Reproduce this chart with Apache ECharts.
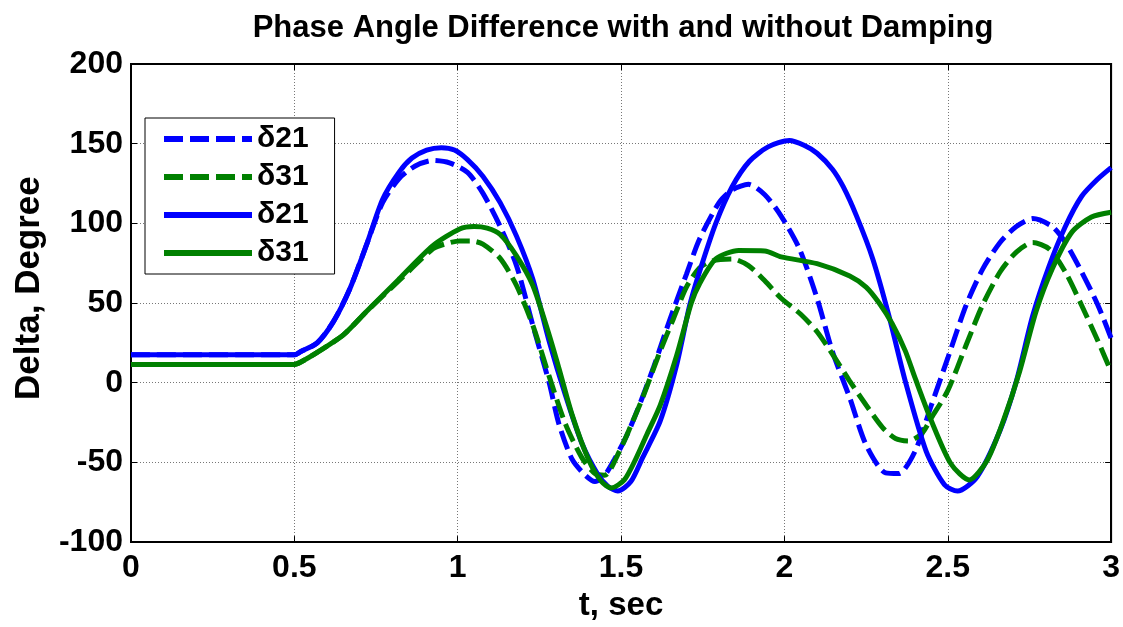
<!DOCTYPE html>
<html lang="en">
<head>
  <meta charset="UTF-8">
  <title>Phase Angle Difference</title>
  <script src="https://cdn.jsdelivr.net/npm/echarts@6/dist/echarts.min.js"></script>
  <style>
    html, body { margin: 0; padding: 0; background: #fff; }
  </style>
</head>
<body>
  <div id="main" style="width: 1123px;height:627px;"></div>
</body>
<script type="text/javascript">
  // [t, delta] pairs
  var dash21 = [
    [0, 17.5], [0.5, 17.5], [0.52, 19.6], [0.57, 25], [0.62, 38.5], [0.67, 59], [0.72, 86], [0.77, 113],
    [0.82, 128], [0.87, 136], [0.924, 139.5], [0.975, 138], [1.03, 132], [1.077, 119], [1.13, 98],
    [1.18, 73.5], [1.23, 36], [1.28, 0], [1.31, -26], [1.35, -48], [1.39, -58], [1.42, -62], [1.45, -58],
    [1.48, -48], [1.52, -32], [1.56, -12], [1.6, 10], [1.65, 40], [1.7, 68], [1.74, 90], [1.8, 113],
    [1.84, 121], [1.89, 124.5], [1.94, 118], [1.99, 104.6], [2.046, 84], [2.1, 53], [2.147, 19.6],
    [2.2, -9.5], [2.25, -39], [2.31, -56.6], [2.35, -57], [2.4, -43], [2.45, -14], [2.5, 15.4],
    [2.556, 48.5], [2.606, 71], [2.66, 88], [2.71, 98], [2.76, 103], [2.82, 98], [2.86, 88],
    [2.91, 69.5], [2.96, 48.5], [3, 28]
  ];
  var dash31 = [
    [0, 11.5], [0.5, 11.5], [0.52, 13], [0.57, 19], [0.65, 30], [0.72, 44.5], [0.82, 64], [0.924, 84],
    [0.96, 87], [1.006, 89], [1.04, 89], [1.077, 87], [1.13, 78], [1.18, 61], [1.23, 36], [1.28, 4],
    [1.33, -26], [1.38, -47], [1.42, -57], [1.45, -58], [1.495, -43], [1.53, -27], [1.566, -9.5],
    [1.62, 20], [1.66, 40], [1.7, 60], [1.74, 72], [1.78, 76.5], [1.84, 77.7], [1.89, 73.5], [1.94, 64],
    [1.99, 53], [2.05, 43], [2.1, 32], [2.15, 17], [2.2, 1], [2.25, -14], [2.3, -28], [2.34, -35],
    [2.38, -36.5], [2.42, -32], [2.45, -22], [2.5, -5], [2.556, 23.5], [2.606, 48.5], [2.66, 69.5],
    [2.71, 82], [2.76, 88], [2.81, 84], [2.86, 69.5], [2.91, 48.5], [2.96, 26], [3, 7]
  ];
  var solid21 = [
    [0, 17.5], [0.5, 17.5], [0.52, 19.6], [0.57, 25], [0.62, 38.5], [0.67, 59], [0.72, 86], [0.77, 115],
    [0.82, 132], [0.86, 141], [0.905, 146], [0.95, 147.5], [0.99, 146], [1.03, 140], [1.077, 129.6],
    [1.13, 113], [1.18, 92], [1.23, 65], [1.28, 26], [1.33, -8], [1.38, -38], [1.43, -58], [1.46, -65],
    [1.49, -68], [1.53, -62], [1.566, -47], [1.62, -24], [1.67, 11], [1.71, 48.5], [1.74, 69.5],
    [1.79, 100], [1.84, 123], [1.893, 139], [1.95, 148], [2.015, 152], [2.06, 149], [2.1, 144],
    [2.147, 134], [2.18, 123], [2.22, 105], [2.27, 78], [2.32, 42], [2.37, 1], [2.434, -43], [2.49, -64],
    [2.53, -68], [2.59, -59], [2.66, -30], [2.71, 1], [2.76, 42], [2.81, 73], [2.86, 98], [2.91, 117],
    [2.96, 128], [3, 135]
  ];
  var solid31 = [
    [0, 11.5], [0.5, 11.5], [0.52, 13], [0.57, 19], [0.65, 30], [0.72, 44.5], [0.82, 65], [0.924, 86],
    [1.006, 96.5], [1.05, 98], [1.09, 97], [1.13, 93], [1.18, 79.6], [1.23, 61], [1.28, 30], [1.31, 9],
    [1.35, -20], [1.4, -48], [1.44, -62], [1.47, -66], [1.51, -61], [1.547, -47], [1.58, -32], [1.62, -14],
    [1.67, 17], [1.715, 50], [1.74, 62], [1.79, 77.7], [1.86, 83], [1.94, 82.7], [1.99, 79], [2.1, 74.7],
    [2.2, 67], [2.25, 60], [2.29, 50], [2.33, 37], [2.37, 20], [2.4, 3], [2.45, -24], [2.51, -51],
    [2.566, -61], [2.62, -49], [2.67, -24], [2.72, 7], [2.77, 44.5], [2.82, 71.5], [2.88, 94.5],
    [2.94, 104], [3, 107]
  ];
  // legend shows the same label twice, trailing space keeps the names apart
  var names = ['δ21', 'δ31', 'δ21 ', 'δ31 '];

  var app = echarts.init(document.getElementById('main'));

  var font = 'Liberation Sans, Arial, Helvetica, sans-serif';
  var blue = '#0000ff';
  var green = '#008000';
  var dash = [19, 7];

  function lineSeries(name, data, color, type) {
    return {
      name: name,
      type: 'line',
      data: data,
      showSymbol: false,
      symbol: 'none',
      smooth: 0.25,
      animation: false,
      lineStyle: { color: color, width: 5, type: type },
      itemStyle: { color: color }
    };
  }

  function legendItem(name, color, type) {
    return {
      name: name,
      itemStyle: { color: 'transparent', borderWidth: 0 },
      lineStyle: { color: color, width: 6, type: type }
    };
  }

  var labelStyle = { fontFamily: font, fontWeight: 'bold', fontSize: 32, color: '#000' };
  var nameStyle = { fontFamily: font, fontWeight: 'bold', fontSize: 31, color: '#000' };

  var option = {
    backgroundColor: '#fff',
    title: {
      text: 'Phase Angle Difference with and without Damping',
      left: 618,
      textAlign: 'center',
      top: 8,
      textStyle: { fontFamily: font, fontWeight: 'bold', fontSize: 31, color: '#000' }
    },
    legend: {
      orient: 'vertical',
      left: 145,
      top: 118,
      data: [
        legendItem(names[0], blue, dash),
        legendItem(names[1], green, dash),
        legendItem(names[2], blue, 'solid'),
        legendItem(names[3], green, 'solid')
      ],
      formatter: function (n) { return n.trim(); },
      backgroundColor: '#fff',
      borderColor: '#000',
      borderWidth: 1,
      borderRadius: 0,
      padding: [5, 26, 5, 16],
      itemWidth: 88,
      itemHeight: 20,
      itemGap: 6,
      textStyle: { fontFamily: font, fontWeight: 'bold', fontSize: 30, lineHeight: 32, color: '#000' }
    },
    grid: {
      left: 131, right: 10, top: 64, bottom: 82,
      show: true, borderColor: '#000', borderWidth: 2
    },
    xAxis: [{
      type: 'value',
      min: 0, max: 3, interval: 0.5,
      name: 't, sec',
      nameLocation: 'middle',
      nameGap: 45,
      nameTextStyle: { fontFamily: font, fontWeight: 'bold', fontSize: 33, color: '#000' },
      axisLine: { show: true, onZero: false, lineStyle: { color: '#000', width: 2 } },
      axisTick: { show: true, inside: true, length: 6, lineStyle: { color: '#000' } },
      axisLabel: Object.assign({ margin: 10 }, labelStyle),
      splitLine: { show: true, lineStyle: { color: '#777', width: 1, type: [1, 2] } }
    }, {
      type: 'value', position: 'top',
      min: 0, max: 3, interval: 0.5,
      axisLine: { show: true, onZero: false, lineStyle: { color: '#000', width: 2 } },
      axisTick: { show: true, inside: true, length: 6, lineStyle: { color: '#000' } },
      axisLabel: { show: false },
      splitLine: { show: false }
    }],
    yAxis: [{
      type: 'value',
      min: -100, max: 200, interval: 50,
      name: 'Delta, Degree',
      nameLocation: 'middle',
      nameGap: 84,
      nameTextStyle: { fontFamily: font, fontWeight: 'bold', fontSize: 35, color: '#000', padding: [0, 0, 0, 30] },
      axisLine: { show: true, onZero: false, lineStyle: { color: '#000', width: 2 } },
      axisTick: { show: true, inside: true, length: 6, lineStyle: { color: '#000' } },
      axisLabel: Object.assign({ margin: 8 }, labelStyle),
      splitLine: { show: true, lineStyle: { color: '#777', width: 1, type: [1, 2] } }
    }, {
      type: 'value', position: 'right',
      min: -100, max: 200, interval: 50,
      axisLine: { show: true, onZero: false, lineStyle: { color: '#000', width: 2 } },
      axisTick: { show: true, inside: true, length: 6, lineStyle: { color: '#000' } },
      axisLabel: { show: false },
      splitLine: { show: false }
    }],
    series: [
      lineSeries(names[0], dash21, blue, dash),
      lineSeries(names[1], dash31, green, dash),
      lineSeries(names[2], solid21, blue, 'solid'),
      lineSeries(names[3], solid31, green, 'solid')
    ]
  };

  app.setOption(option);
</script>
</html>
